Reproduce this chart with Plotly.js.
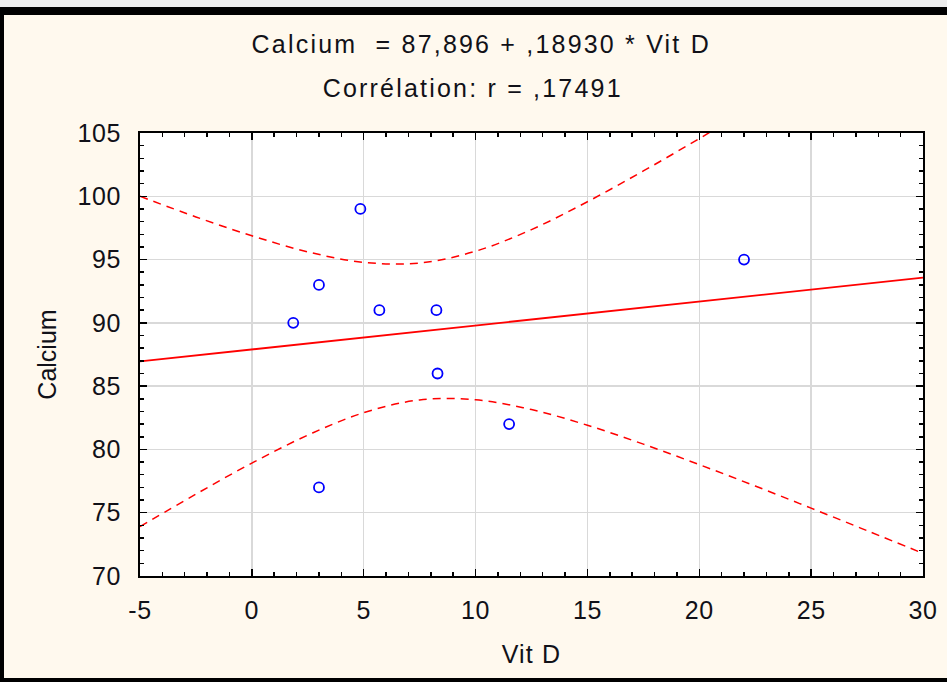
<!DOCTYPE html>
<html>
<head>
<meta charset="utf-8">
<script src="https://cdn.plot.ly/plotly-3.0.1.min.js"></script>
<style>
  html, body { margin: 0; padding: 0; background: #ececec; width: 947px; height: 682px; overflow: hidden; }
  #chart { position: absolute; left: 0; top: 7px; width: 943px; height: 663px;
           border-top: 8px solid #000; border-left: 4px solid #000; border-bottom: 4px solid #000; }
  #chart .annotation-text { letter-spacing: 2.2px; }
  #chart .xtitle { letter-spacing: 1.2px; }
  #chart .xtick text, #chart .ytick text { letter-spacing: 0.6px; }
</style>
</head>
<body>
<div id="chart"></div>
<script>
// Observed data (Vit D vs Calcium)
const vitD    = [1.85, 3.0, 3.0, 4.85, 5.7, 8.25, 8.3, 11.5, 22.0];
const calcium = [90, 93, 77, 99, 91, 91, 86, 82, 95];

const fitX = [-5, 30];
const fitY = [86.95, 93.58];

// Confidence band read at regular x positions
const bandX     = [-5, -2.5, 0, 2.5, 5, 7.5, 10, 12.5, 15, 17.5, 20, 22.5, 25, 27.5, 30];
const bandUpper = [100.0, 98.37, 96.88, 95.61, 94.78, 94.73, 95.66, 97.37, 99.57, 102.0, 104.56, 107.21, 109.9, 112.62, 115.37];
const bandLower = [73.9, 76.47, 78.92, 81.13, 82.9, 83.91, 83.92, 83.15, 81.91, 80.42, 78.8, 77.11, 75.36, 73.58, 71.79];

const xTicks = [-5, 0, 5, 10, 15, 20, 25, 30];
const yTicks = [70, 75, 80, 85, 90, 95, 100, 105];

const titleLine1 = "Calcium&nbsp;&nbsp;= 87,896 + ,18930 * Vit D";
const titleLine2 = "Corrélation: r = ,17491";

const font = "Liberation Sans, Arial, sans-serif";
const ink = "#111118";

const traces = [
  { x: bandX, y: bandUpper, mode: "lines", line: { color: "#ff0000", width: 1.5, dash: "8px,6px", shape: "spline" }, hoverinfo: "skip" },
  { x: bandX, y: bandLower, mode: "lines", line: { color: "#ff0000", width: 1.5, dash: "8px,6px", shape: "spline" }, hoverinfo: "skip" },
  { x: fitX, y: fitY, mode: "lines", line: { color: "#ff0000", width: 1.8 } },
  { x: vitD, y: calcium, mode: "markers",
    marker: { symbol: "circle-open", size: 10, color: "#0000ff", line: { width: 1.8, color: "#0000ff" } } }
];

const axisCommon = {
  showline: true, linecolor: "#000", linewidth: 2, mirror: "allticks",
  ticks: "inside", ticklen: 7, tickwidth: 1.5, tickcolor: "#000",
  showgrid: true, gridcolor: "#d9d9d9", gridwidth: 1.5,
  zeroline: false,
  tickfont: { family: font, size: 25, color: ink },
  minor: { ticks: "inside", ticklen: 4, tickwidth: 1.5, tickcolor: "#000", dtick: 1, showgrid: false }
};

const layout = {
  width: 943, height: 663,
  margin: { l: 136, r: 24, t: 118, b: 102 },
  paper_bgcolor: "#fff9ee",
  plot_bgcolor: "#ffffff",
  showlegend: false,
  font: { family: font, size: 25, color: ink },
  xaxis: Object.assign({}, axisCommon, {
    range: [-5, 30], tickvals: xTicks, ticktext: xTicks.map(String),
    ticklabelstandoff: 11,
    title: { text: "Vit D", font: { family: font, size: 25, color: ink }, standoff: 22 }
  }),
  yaxis: Object.assign({}, axisCommon, {
    range: [70, 105], tickvals: yTicks, ticktext: yTicks.map(String),
    minor: Object.assign({}, axisCommon.minor),
    ticklabelstandoff: 12,
    title: { text: "Calcium", font: { family: font, size: 25, color: ink }, standoff: 16 }
  }),
  annotations: [
    { text: titleLine1, xref: "paper", yref: "paper", x: 0.436, y: 1, yshift: 89, showarrow: false,
      xanchor: "center", yanchor: "middle", font: { family: font, size: 25, color: ink } },
    { text: titleLine2, xref: "paper", yref: "paper", x: 0.425, y: 1, yshift: 45, showarrow: false,
      xanchor: "center", yanchor: "middle", font: { family: font, size: 25, color: ink } }
  ]
};

Plotly.newPlot("chart", traces, layout, { displayModeBar: false, staticPlot: true });
</script>
</body>
</html>
